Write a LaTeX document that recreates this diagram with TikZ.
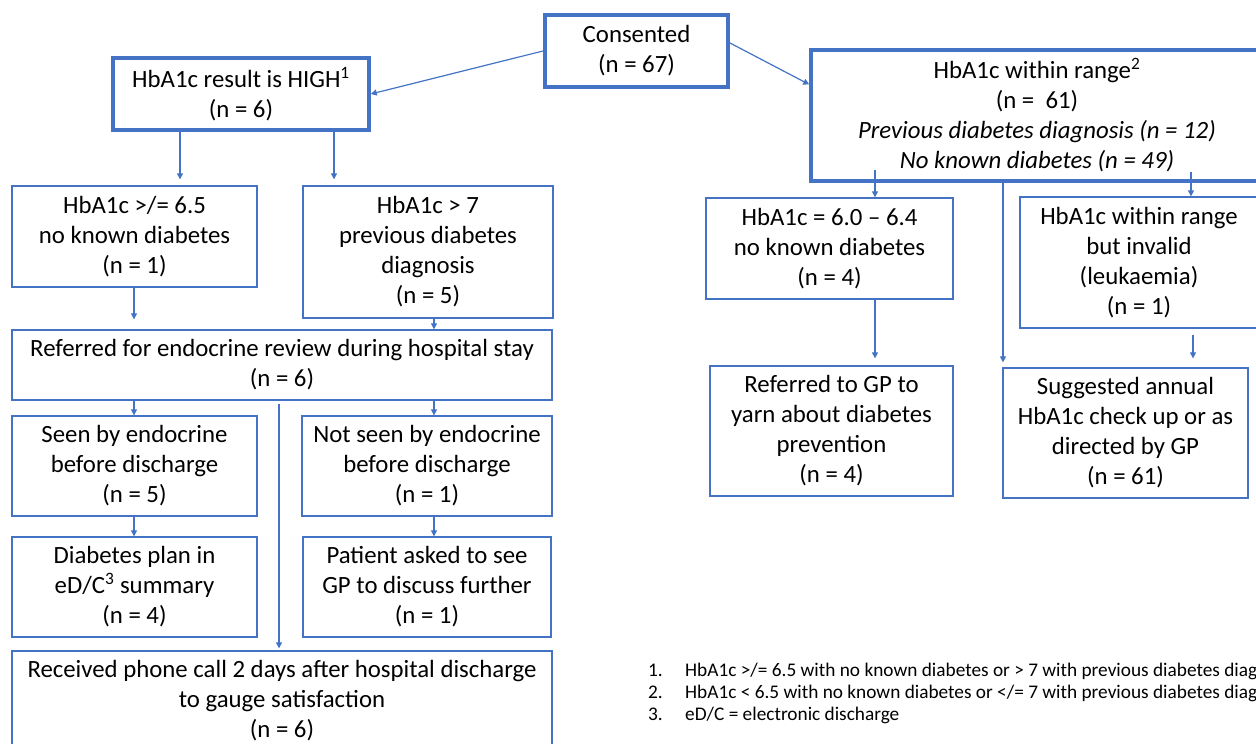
\documentclass[tikz,border=0pt]{standalone}
\usepackage{fontspec}
\setmainfont{Carlito}
\usetikzlibrary{arrows.meta,calc}
\definecolor{blu}{HTML}{4472C4}
\begin{document}
\begin{tikzpicture}[x=1pt,y=-1pt,
  box/.style={draw=blu, line width=1.3pt, align=center, inner sep=0pt,
    font=\fontsize{24.8}{30}\selectfont},
  thickbox/.style={box, line width=3.5pt},
  arr/.style={draw=blu, line width=1.2pt, -{Triangle[length=6pt,width=6pt]}},
  fn/.style={anchor=base west, inner sep=0pt, font=\fontsize{19.3}{22}\selectfont}]
\useasboundingbox (0,0) rectangle (1256,744);
\clip (0,0) rectangle (1256,744);
% top level
\node[box, line width=4pt, minimum width=183pt, minimum height=72pt] (cons) at (636.5,51) {Consented\\(n = 67)};
\node[thickbox, minimum width=256pt, minimum height=72pt] (high) at (241,94) {HbA1c result is HIGH\textsuperscript{1}\\(n = 6)};
\node[thickbox, minimum width=452pt, minimum height=131pt] (within) at (1037,115.5) {HbA1c within range\textsuperscript{2}\\(n = \ 61)\\\textit{Previous diabetes diagnosis (n = 12)}\\\textit{No known diabetes (n = 49)}};
% left branch
\node[box, minimum width=245pt, minimum height=101pt] (b1) at (134.5,236.5) {HbA1c >/= 6.5\\no known diabetes\\(n = 1)};
\node[box, minimum width=250pt, minimum height=132pt] (b2) at (428,252) {HbA1c > 7\\previous diabetes\\diagnosis\\(n = 5)};
\node[box, minimum width=540pt, minimum height=70pt] (ref) at (282,365) {Referred for endocrine review during hospital stay\\(n = 6)};
\node[box, minimum width=245pt, minimum height=100pt] (seen) at (134.5,466) {Seen by endocrine\\before discharge\\(n = 5)};
\node[box, minimum width=250pt, minimum height=100pt] (notseen) at (427,466) {Not seen by endocrine\\before discharge\\(n = 1)};
\node[box, minimum width=245pt, minimum height=100pt] (plan) at (134.5,587) {Diabetes plan in\\eD/C\textsuperscript{3} summary\\(n = 4)};
\node[box, minimum width=248pt, minimum height=100pt] (patient) at (427,587) {Patient asked to see\\GP to discuss further\\(n = 1)};
\node[box, minimum width=540pt, minimum height=100pt] (recv) at (282,701) {Received phone call 2 days after hospital discharge\\to gauge satisfaction\\(n = 6)};
% right branch
\node[box, minimum width=247pt, minimum height=101pt] (r1) at (829.5,248.5) {HbA1c = 6.0 -- 6.4\\no known diabetes\\(n = 4)};
\node[box, minimum width=238pt, minimum height=131pt] (r2) at (1139,262.5) {HbA1c within range\\but invalid\\(leukaemia)\\(n = 1)};
\node[box, minimum width=243pt, minimum height=130pt] (gp) at (831.5,431) {Referred to GP to\\yarn about diabetes\\prevention\\(n = 4)};
\node[box, minimum width=245pt, minimum height=130pt] (annual) at (1125.5,433) {Suggested annual\\HbA1c check up or as\\directed by GP\\(n = 61)};
% connectors
\draw[arr] (cons.west) -- (high.east);
\draw[arr] ([yshift=8pt]cons.east) -- ([yshift=31pt]within.west);
\draw[arr, shorten >=6pt] (180,0 |- high.south) -- (180,0 |- b1.north);
\draw[arr, shorten >=6pt] (334,0 |- high.south) -- (334,0 |- b2.north);
\draw[arr, shorten >=10pt] (134,0 |- b1.south) -- (134,0 |- ref.north);
\draw[arr] (434,0 |- b2.south) -- (434,0 |- ref.north);
\draw[arr] (134,0 |- ref.south) -- (134,0 |- seen.north);
\draw[arr] (434,0 |- ref.south) -- (434,0 |- notseen.north);
\draw[arr] (134,0 |- seen.south) -- (134,0 |- plan.north);
\draw[arr] (434,0 |- notseen.south) -- (434,0 |- patient.north);
\coordinate (lstart) at (279,404);
\draw[arr, shorten >=2pt] (lstart) -- (lstart |- recv.north);
\draw[arr] ($(875,0 |- within.south)+(0,-13)$) -- (875,0 |- r1.north);
\draw[arr] ($(1191,0 |- within.south)+(0,-11)$) -- (1191,0 |- r2.north);
\draw[arr, shorten >=5pt] (1003,0 |- within.south) -- (1003,0 |- annual.north);
\draw[arr, shorten >=7pt] (875,0 |- r1.south) -- (875,0 |- gp.north);
\draw[arr, shorten >=9pt] ($(1193,0 |- r2.south)+(0,6)$) -- (1193,0 |- annual.north);
% footnotes
\node[fn] (fn1) at (648,676) {\makebox[37pt][l]{1.}HbA1c >/= 6.5 with no known diabetes or > 7 with previous diabetes diagnosis};
\node[fn] (fn2) at (648,698) {\makebox[37pt][l]{2.}HbA1c < 6.5 with no known diabetes or </= 7 with previous diabetes diagnosis};
\node[fn] (fn3) at (648,720) {\makebox[37pt][l]{3.}eD/C = electronic discharge};
\end{tikzpicture}
\end{document}
